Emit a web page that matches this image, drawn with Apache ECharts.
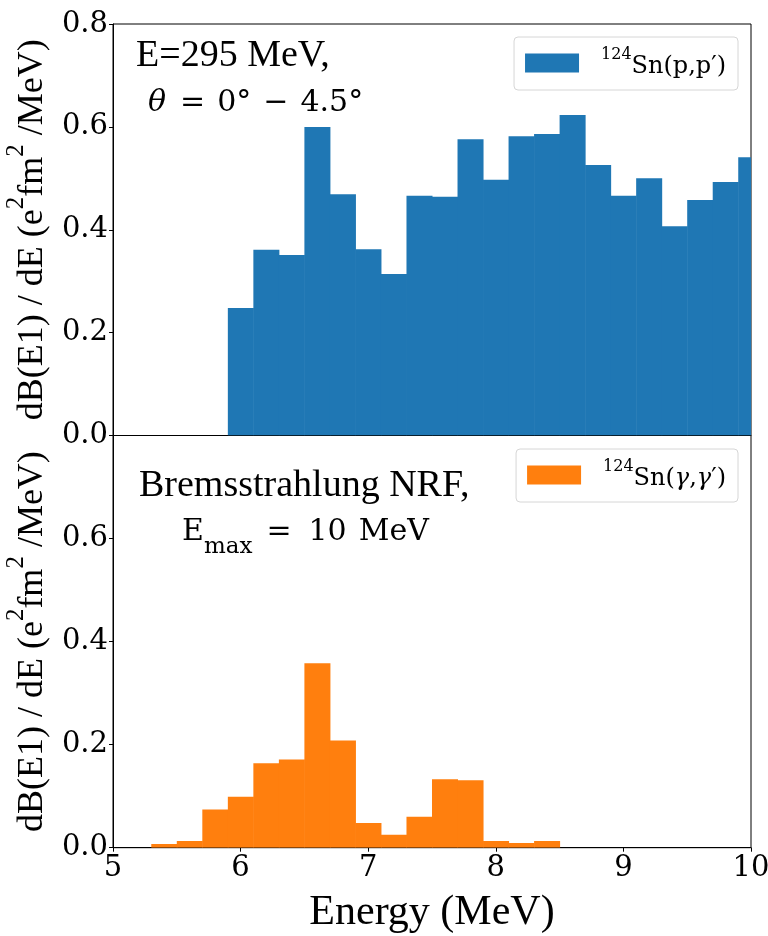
<!DOCTYPE html>
<html>
<head>
<meta charset="utf-8">
<script src="https://cdn.jsdelivr.net/npm/echarts@6/dist/echarts.min.js"></script>
<style>
  html, body { margin: 0; padding: 0; background: #fff; }
  #chart { width: 768px; height: 936px; }
</style>
</head>
<body>
<div id="chart"></div>
<script>
// ---------- data ----------
const xTicks = [5, 6, 7, 8, 9, 10];
const yTicks = [0.0, 0.2, 0.4, 0.6, 0.8];

// (p,p') histogram: bin edges and values
const ppEdges = [5.9, 6.1, 6.3, 6.5, 6.7, 6.9, 7.1, 7.3, 7.5, 7.7, 7.9, 8.1, 8.3, 8.5, 8.7, 8.9, 9.1, 9.3, 9.5, 9.7, 9.9, 10.1];
const ppValues = [0.248, 0.361, 0.351, 0.600, 0.469, 0.362, 0.314, 0.466, 0.464, 0.576, 0.497, 0.582, 0.586, 0.623, 0.526, 0.466, 0.500, 0.407, 0.458, 0.493, 0.541];

// (gamma,gamma') histogram: bin edges and values
const ggEdges = [5.3, 5.5, 5.7, 5.9, 6.1, 6.3, 6.5, 6.7, 6.9, 7.1, 7.3, 7.5, 7.7, 7.9, 8.1, 8.3, 8.5];
const ggValues = [0.007, 0.013, 0.074, 0.099, 0.164, 0.171, 0.358, 0.208, 0.048, 0.025, 0.060, 0.133, 0.131, 0.013, 0.009, 0.013];

const ppName = 'pp';
const ggName = 'gg';
const blue = '#1f77b4';
const orange = '#ff7f0e';

// ---------- helpers ----------
function histData(edges, values) {
  return values.map((v, i) => [edges[i], edges[i + 1], v]);
}
function histRender(color) {
  return function (params, api) {
    const x0 = api.value(0), x1 = api.value(1), y = api.value(2);
    const pTop = api.coord([x0, y]);
    const pBot = api.coord([x1, 0]);
    return {
      type: 'rect',
      shape: { x: pTop[0], y: pTop[1], width: pBot[0] - pTop[0] + 0.5, height: pBot[1] - pTop[1] },
      style: { fill: color }
    };
  };
}

const serif = 'Liberation Serif';
const mathFont = 'DejaVu Serif';

const yLabelRich = {
  n: { fontFamily: serif, fontSize: 36, lineHeight: 47, verticalAlign: 'bottom', color: '#000' },
  s: { fontFamily: serif, fontSize: 25, lineHeight: 25, verticalAlign: 'top', color: '#000' }
};
const yLabelText = '{n|dB(E1) / dE (e}{s|2}{n|fm}{s|2}{n| /MeV)}';

function yAxisCfg(gridIndex, hideTop) {
  return {
    type: 'value', gridIndex: gridIndex, min: yTicks[0], max: yTicks[yTicks.length - 1], interval: 0.2,
    axisLine: { show: true, lineStyle: { color: '#000', width: 1 } },
    axisTick: { show: true, length: 4, lineStyle: { color: '#000' } },
    splitLine: { show: false },
    axisLabel: {
      fontFamily: mathFont, fontSize: 29, color: '#000', margin: 5,
      formatter: function (v) {
        if (hideTop && Math.abs(v - 0.8) < 1e-9) return '';
        return v.toFixed(1);
      }
    },
    name: yLabelText,
    nameLocation: 'middle',
    nameGap: 56,
    nameTextStyle: { rich: yLabelRich }
  };
}

const chart = echarts.init(document.getElementById('chart'), null, { renderer: 'canvas' });

const legendRich = {
  sup: { fontFamily: mathFont, fontSize: 16, lineHeight: 16, verticalAlign: 'top', color: '#000' },
  n: { fontFamily: mathFont, fontSize: 24, lineHeight: 32, verticalAlign: 'bottom', color: '#000' },
  i: { fontFamily: mathFont, fontStyle: 'italic', fontSize: 24, lineHeight: 32, verticalAlign: 'bottom', color: '#000' }
};

function legendCfg(name, top, fmt) {
  return {
    data: [name], right: 30, top: top, orient: 'vertical',
    icon: 'rect', itemWidth: 54, itemHeight: 19,
    borderColor: '#d6d6d6', borderWidth: 1, borderRadius: 4,
    padding: [10, 12, 11, 11], backgroundColor: '#fff',
    formatter: function () { return fmt; },
    textStyle: { padding: [0, 0, 0, 17], rich: legendRich }
  };
}

const mathBase = { fontFamily: mathFont, fontSize: 30, lineHeight: 30, fill: '#000' };

const gridBase = { left: 113, right: 17, show: true, borderColor: '#000', borderWidth: 1, backgroundColor: 'transparent', containLabel: false, outerBoundsMode: 'none' };

const option = {
  animation: false,
  backgroundColor: '#fff',
  grid: [
    Object.assign({}, gridBase, { top: 24, height: 411.5 }),
    Object.assign({}, gridBase, { top: 435.5, height: 412.2 })
  ],
  xAxis: [
    {
      type: 'value', gridIndex: 0, min: xTicks[0], max: xTicks[xTicks.length - 1], interval: 1,
      axisLine: { show: true, lineStyle: { color: '#000' } },
      axisTick: { show: false }, axisLabel: { show: false }, splitLine: { show: false }
    },
    {
      type: 'value', gridIndex: 1, min: xTicks[0], max: xTicks[xTicks.length - 1], interval: 1,
      axisLine: { show: true, lineStyle: { color: '#000' } },
      axisTick: { show: true, length: 4, lineStyle: { color: '#000' } },
      axisLabel: { fontFamily: mathFont, fontSize: 29, color: '#000', margin: 6 },
      splitLine: { show: false },
      name: 'Energy (MeV)', nameLocation: 'middle', nameGap: 44,
      nameTextStyle: { fontFamily: serif, fontSize: 42, color: '#000' }
    }
  ],
  yAxis: [yAxisCfg(0, false), yAxisCfg(1, true)],
  legend: [
    legendCfg(ppName, 37, '{sup|124}{n|Sn(p,p′)}'),
    legendCfg(ggName, 449, '{sup|124}{n|Sn(}{i|γ}{n|,}{i|γ}{n|′)}')
  ],
  series: [
    {
      name: ppName, type: 'custom', xAxisIndex: 0, yAxisIndex: 0, clip: true,
      itemStyle: { color: blue },
      renderItem: histRender(blue),
      encode: { x: [0, 1], y: 2 },
      data: histData(ppEdges, ppValues)
    },
    {
      name: ggName, type: 'custom', xAxisIndex: 1, yAxisIndex: 1, clip: true,
      itemStyle: { color: orange },
      renderItem: histRender(orange),
      encode: { x: [0, 1], y: 2 },
      data: histData(ggEdges, ggValues)
    }
  ],
  graphic: [
    {
      type: 'text', left: 136, top: 37, z: 100,
      style: { text: 'E=295 MeV,', font: '38px "Liberation Serif"', fill: '#000' }
    },
    {
      type: 'text', left: 148, top: 88, z: 100,
      style: {
        text: '{i|θ}{op|=}{n|0°}{op|−}{n|4.5°}',
        rich: {
          i: Object.assign({}, mathBase, { fontStyle: 'italic', padding: [0, 2, 0, 0] }),
          op: Object.assign({}, mathBase, { padding: [0, 12, 0, 12] }),
          n: Object.assign({}, mathBase)
        }
      }
    },
    {
      type: 'text', left: 139, top: 467, z: 100,
      style: { text: 'Bremsstrahlung NRF,', font: '38px "Liberation Serif"', fill: '#000' }
    },
    {
      type: 'text', left: 182, top: 517, z: 100,
      style: {
        text: '{n|E}{sub|max}{op|=}{n|10}{u|MeV}',
        rich: {
          n: Object.assign({}, mathBase, { verticalAlign: 'top' }),
          op: Object.assign({}, mathBase, { padding: [0, 17, 0, 14], verticalAlign: 'top' }),
          u: Object.assign({}, mathBase, { padding: [0, 0, 0, 12], verticalAlign: 'top' }),
          sub: { fontFamily: mathFont, fontSize: 23, lineHeight: 42, verticalAlign: 'bottom', fill: '#000' }
        }
      }
    }
  ]
};
chart.setOption(option);
</script>
</body>
</html>
